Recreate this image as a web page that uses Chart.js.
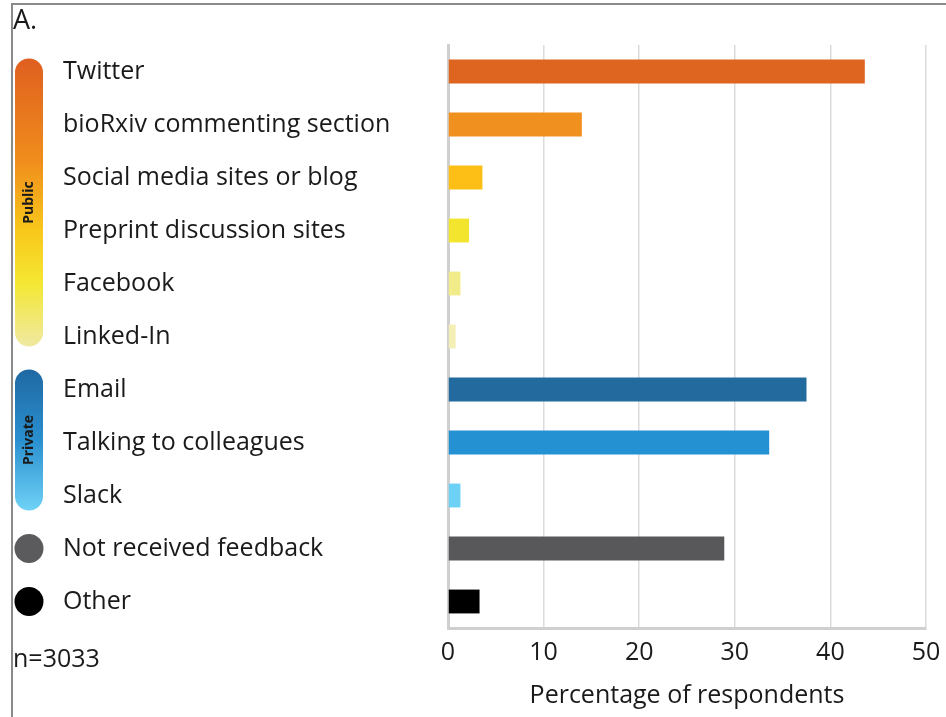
<!DOCTYPE html>
<html>
<head>
<meta charset="utf-8">
<script src="https://cdn.jsdelivr.net/npm/chart.js@4"></script>
<style>
    html, body { margin: 0; padding: 0; background: #fff; }
    #wrap { position: relative; width: 946px; height: 717px; }
</style>
</head>
<body>
<div id="wrap"><canvas id="feedbackChart"></canvas></div>
<script>
const categories = ['Twitter', 'bioRxiv commenting section', 'Social media sites or blog',
    'Preprint discussion sites', 'Facebook', 'Linked-In', 'Email', 'Talking to colleagues',
    'Slack', 'Not received feedback', 'Other'];
const percentages = [43.6, 14.0, 3.6, 2.2, 1.3, 0.8, 37.5, 33.6, 1.3, 28.9, 3.3];
const barColors = ['#dd6520', '#f0901e', '#fdbf16', '#f3e52e', '#f1eb8a', '#f3efb5',
    '#236b9e', '#2491d3', '#6dd0f5', '#58585a', '#000000'];
const xTicks = [0, 10, 20, 30, 40, 50];

const FONT = "'Open Sans', sans-serif";

// pills, dots and the loose text on the left side
const sidePlugin = {
    id: 'side',
    afterDraw(chart) {
        const ctx = chart.ctx;
        const y = chart.scales.y;
        ctx.save();

        // frame
        ctx.strokeStyle = '#8a8a8a';
        ctx.lineWidth = 2;
        ctx.beginPath();
        ctx.moveTo(12, 717);
        ctx.lineTo(12, 4);
        ctx.lineTo(946, 4);
        ctx.stroke();

        function pill(top, bottom, stops, label) {
            const x = 15, w = 28, r = 14;
            const g = ctx.createLinearGradient(0, top, 0, bottom);
            stops.forEach(s => g.addColorStop(s[0], s[1]));
            ctx.fillStyle = g;
            ctx.beginPath();
            ctx.roundRect(x, top, w, bottom - top, r);
            ctx.fill();
            ctx.save();
            ctx.translate(x + w / 2, (top + bottom) / 2);
            ctx.rotate(-Math.PI / 2);
            ctx.fillStyle = '#1a1a1a';
            ctx.font = "bold 14px " + FONT;
            ctx.textAlign = 'center';
            ctx.textBaseline = 'middle';
            ctx.fillText(label, 0, 0);
            ctx.restore();
        }

        pill(y.getPixelForValue(0) - 13, y.getPixelForValue(5) + 10,
            [[0, '#df5f1f'], [0.35, '#f08c1c'], [0.6, '#f8c81b'], [0.78, '#f4e733'], [1, '#efe9a2']],
            'Public');
        pill(y.getPixelForValue(6) - 20, y.getPixelForValue(8) + 15,
            [[0, '#1f69a3'], [0.5, '#2a8fcf'], [1, '#6fd2f6']],
            'Private');

        [[9, '#5b5b5d'], [10, '#000000']].forEach(d => {
            ctx.fillStyle = d[1];
            ctx.beginPath();
            ctx.arc(29, y.getPixelForValue(d[0]), 14.5, 0, Math.PI * 2);
            ctx.fill();
        });

        ctx.fillStyle = '#1a1a1a';
        ctx.textAlign = 'left';
        ctx.textBaseline = 'middle';
        ctx.font = "27px " + FONT;
        ctx.fillText('A.', 13, 21);
        ctx.font = "25px " + FONT;
        ctx.fillText('n=3033', 13, 660);
        ctx.restore();
    }
};

const ctx = document.getElementById('feedbackChart');
const feedbackChart = new Chart(ctx, {
    type: 'bar',
    data: {
        labels: categories,
        datasets: [{
            data: percentages,
            backgroundColor: barColors,
            borderWidth: 0,
            barPercentage: 0.45,
            categoryPercentage: 1
        }]
    },
    options: {
        indexAxis: 'y',
        responsive: true,
        maintainAspectRatio: false,
        animation: false,
        layout: { padding: { left: 63, top: 45, right: 20, bottom: 0 } },
        plugins: {
            legend: { display: false },
            tooltip: { enabled: false }
        },
        scales: {
            x: {
                min: 0,
                max: 50,
                afterBuildTicks: (scale) => { scale.ticks = xTicks.map(v => ({ value: v })); },
                afterFit: (scale) => {
                    scale.height = 89;
                    scale.paddingRight = 0;
                },
                grid: { color: '#dcdcdc', lineWidth: 1.5, drawTicks: false },
                border: { color: '#cfcfcf', width: 3 },
                ticks: { color: '#1a1a1a', padding: 10, font: { family: FONT, size: 25 } },
                title: {
                    display: true,
                    text: 'Percentage of respondents',
                    color: '#1a1a1a',
                    font: { family: FONT, size: 25 },
                    padding: { top: 0, bottom: 6 }
                }
            },
            y: {
                afterFit: (scale) => { scale.width = 385; },
                grid: { display: false },
                border: { color: '#cfcfcf', width: 3 },
                ticks: {
                    crossAlign: 'far',
                    color: '#1a1a1a',
                    font: { family: FONT, size: 25 }
                }
            }
        }
    },
    plugins: [sidePlugin]
});
</script>
</body>
</html>
